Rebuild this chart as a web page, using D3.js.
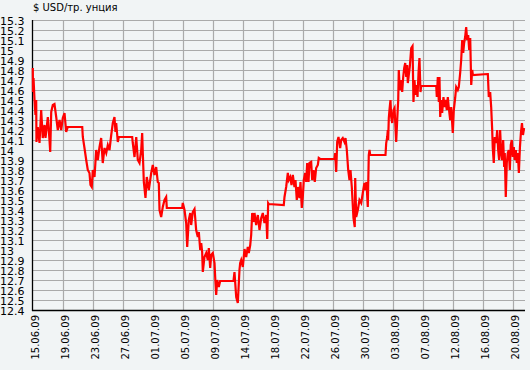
<!DOCTYPE html>
<html><head><meta charset="utf-8">
<script src="https://cdn.jsdelivr.net/npm/d3@7/dist/d3.min.js"></script>
<style>
html,body{margin:0;padding:0;background:#f1f4f5;}
svg{display:block;}
text{font-family:"DejaVu Sans",sans-serif;fill:#000;}
</style></head>
<body>
<svg id="c" width="530" height="370"></svg>
<script>
// Days since 15.06.09 00:00
const days = [0.04,0.07,0.14,0.28,0.41,0.51,0.55,0.73,0.97,1.20,1.42,1.66,1.80,2.12,2.35,2.45,2.59,2.81,3.04,3.28,3.50,3.74,3.97,4.19,4.43,4.66,4.88,6.88,
6.96,7.19,7.43,7.65,7.88,8.02,8.20,8.34,8.58,8.81,9.03,9.27,9.50,9.72,9.96,10.20,10.42,10.65,10.89,11.11,11.34,11.48,11.58,11.80,11.94,13.79,
13.87,14.11,14.35,14.57,14.80,15.04,15.17,15.26,15.40,15.63,15.81,16.09,16.42,16.64,16.88,17.11,17.33,17.47,17.57,17.80,18.02,18.26,18.49,18.58,20.71,
20.79,21.03,21.26,21.40,21.62,21.82,21.95,22.17,22.41,22.64,22.87,23.01,23.20,23.34,23.47,23.56,23.79,24.03,24.25,24.39,24.58,24.72,24.94,25.18,25.27,25.41,25.55,25.77,25.96,27.80,
27.94,28.18,28.40,28.54,28.63,28.73,28.87,29.09,29.33,29.56,29.78,29.92,30.12,30.25,30.39,30.57,30.71,30.94,31.17,31.40,31.64,31.86,32.09,32.33,32.47,32.60,32.69,34.76,
34.86,35.09,35.32,35.45,35.65,35.83,36.01,36.24,36.38,36.56,36.70,36.93,37.07,37.25,37.39,37.53,37.72,37.86,38.00,38.18,38.32,38.55,38.69,38.87,39.05,39.24,39.47,39.60,39.80,41.78,
41.87,42.01,42.15,42.33,42.56,42.70,42.92,43.16,43.30,43.48,43.67,43.85,43.99,44.17,44.40,44.58,44.64,44.78,45.00,45.23,45.47,45.69,45.92,46.06,46.20,46.38,46.52,46.62,46.71,48.83,
48.93,49.07,49.15,49.20,49.29,49.38,49.52,49.62,49.76,49.94,50.08,50.21,50.31,50.45,50.59,50.67,50.81,51.00,51.14,51.28,51.42,51.56,51.70,51.83,51.92,52.05,52.19,52.39,52.57,
52.70,52.84,52.98,53.12,53.26,53.40,53.53,53.67,53.77,55.85,
55.93,56.07,56.21,56.30,56.40,56.54,56.67,56.85,56.99,57.13,57.31,57.45,57.59,57.78,57.92,58.14,58.28,58.47,58.61,58.83,58.97,59.16,59.30,59.44,59.58,59.71,59.85,59.99,60.13,60.27,60.41,60.55,60.69,60.83,60.91,62.98,
62.99,63.12,63.31,63.45,63.59,63.67,63.81,63.95,64.14,64.28,64.42,64.55,64.69,64.83,64.97,65.11,65.25,65.33,65.47,65.61,65.75,65.89,66.03,66.16,66.30,66.44,66.58,66.72,66.86,67.00,67.14,67.28,67.43,67.56,67.71,67.85,68.00];
// Price, USD per troy ounce
const price = [14.82,14.58,14.72,14.50,14.35,14.50,14.08,14.23,14.07,14.40,14.12,14.25,14.12,14.33,14.10,13.98,14.38,14.45,14.46,14.33,14.20,14.30,14.20,14.32,14.37,14.18,14.23,14.23,
14.13,14.02,13.90,13.80,13.77,13.65,13.63,13.80,13.73,14.00,13.90,14.03,14.12,13.87,14.02,13.97,14.05,14.00,14.15,14.27,14.33,14.18,14.27,14.08,14.13,14.13,
14.07,13.93,14.13,13.90,13.87,14.00,14.17,13.97,13.68,13.52,13.73,13.60,13.77,13.85,13.75,13.83,13.68,13.67,13.40,13.33,13.43,13.50,13.53,13.42,13.42,
13.47,13.40,13.27,13.03,13.30,13.37,13.25,13.38,13.41,13.20,13.13,13.18,13.00,13.07,12.98,12.78,12.93,12.97,12.90,13.02,12.82,12.95,12.97,12.87,12.73,12.55,12.70,12.63,12.69,12.69,
12.78,12.53,12.47,12.67,12.80,12.87,12.90,12.83,13.01,12.93,13.03,12.97,13.05,13.15,13.37,13.28,13.37,13.25,13.35,13.20,13.32,13.37,13.27,13.35,13.11,13.47,13.46,13.45,
13.53,13.63,13.77,13.70,13.73,13.65,13.75,13.63,13.70,13.50,13.63,13.52,13.68,13.42,13.53,13.70,13.77,13.68,13.87,13.68,13.87,13.88,13.70,13.80,13.68,13.82,13.85,13.92,13.91,13.91,
13.97,13.78,14.08,14.13,14.02,14.10,14.12,14.08,14.12,14.00,13.80,13.70,13.80,13.63,13.32,13.23,13.72,13.33,13.40,13.50,13.47,13.57,13.67,13.60,13.68,13.43,13.95,14.00,13.95,13.95,
14.07,14.13,14.20,14.10,14.32,14.40,14.50,14.33,14.27,14.40,14.42,14.23,14.08,14.30,14.50,14.80,14.60,14.70,14.58,14.73,14.82,14.87,14.73,14.85,14.67,14.75,14.83,15.02,15.04,
14.48,14.70,14.55,14.65,14.53,14.77,14.92,14.58,14.64,14.64,
14.53,14.73,14.48,14.73,14.33,14.50,14.37,14.53,14.43,14.50,14.40,14.53,14.42,14.30,14.43,14.17,14.40,14.52,14.63,14.60,14.63,14.77,14.90,15.10,14.97,15.07,15.13,15.23,15.10,15.15,15.00,15.12,14.65,14.80,14.75,14.76,14.76,
14.53,14.58,14.43,14.20,14.02,13.87,14.13,14.07,14.20,14.00,13.90,14.20,13.97,13.90,14.10,13.83,13.97,13.53,13.87,13.97,14.00,13.80,14.05,14.10,13.93,14.03,13.90,14.00,13.87,13.97,13.77,14.03,14.17,14.27,14.15,14.22,14.18];

const tickLabels = ["15.06.09","19.06.09","23.06.09","27.06.09","01.07.09","05.07.09","09.07.09","14.07.09","18.07.09","22.07.09","26.07.09","30.07.09","03.08.09","07.08.09","12.08.09","16.08.09","20.08.09"];
const tickStep = 4.15; // days between labelled ticks
const yTicks = d3.range(124, 154).map(v => v / 10);
const title = "$ USD/тр. унция";

const svg = d3.select("#c");
const x = d3.scaleLinear().domain([0, tickStep * 16]).range([32.5, 512.5]);
const y = d3.scaleLinear().domain([12.4, 15.3]).range([310, 20]);
const xRight = 525;

// horizontal grid
svg.append("g").selectAll("line").data(yTicks).join("line")
  .attr("x1", 33).attr("x2", xRight)
  .attr("y1", d => Math.round(y(d)) + 0.5).attr("y2", d => Math.round(y(d)) + 0.5)
  .attr("stroke", "#aaaaaa").attr("stroke-width", 1.2);
// vertical grid
const tickPos = tickLabels.map((l, i) => i * tickStep);
svg.append("g").selectAll("line").data(tickPos.slice(1)).join("line")
  .attr("x1", d => Math.round(x(d)) + 0.5).attr("x2", d => Math.round(x(d)) + 0.5)
  .attr("y1", 20).attr("y2", 310)
  .attr("stroke", "#aaaaaa").attr("stroke-width", 1.2);

// y labels
svg.append("g").selectAll("text").data(yTicks).join("text")
  .attr("x", 0).attr("y", d => y(d) + 4.5)
  .style("font-size", "11px")
  .text(d => d3.format("~g")(d));

// x labels
svg.append("g").selectAll("text").data(tickLabels).join("text")
  .attr("transform", (d, i) => `translate(${x(tickPos[i]) + 6},315) rotate(-90)`)
  .attr("text-anchor", "end")
  .style("font-size", "10px")
  .text(d => d);

// axes lines
svg.append("line").attr("x1", 32.5).attr("x2", 32.5).attr("y1", 20).attr("y2", 311)
  .attr("stroke", "#000").attr("stroke-width", 1.3);
svg.append("line").attr("x1", 32).attr("x2", xRight).attr("y1", 310.5).attr("y2", 310.5)
  .attr("stroke", "#000").attr("stroke-width", 1.3);

// title
svg.append("text").attr("x", 33).attr("y", 11).style("font-size", "10px").text(title);

// price line
const line = d3.line().x((d, i) => x(days[i])).y((d) => y(d));
svg.append("path").datum(price)
  .attr("d", line)
  .attr("fill", "none").attr("stroke", "#ff0000").attr("stroke-width", 2.2)
  .attr("stroke-linejoin", "miter");
</script>
</body></html>
